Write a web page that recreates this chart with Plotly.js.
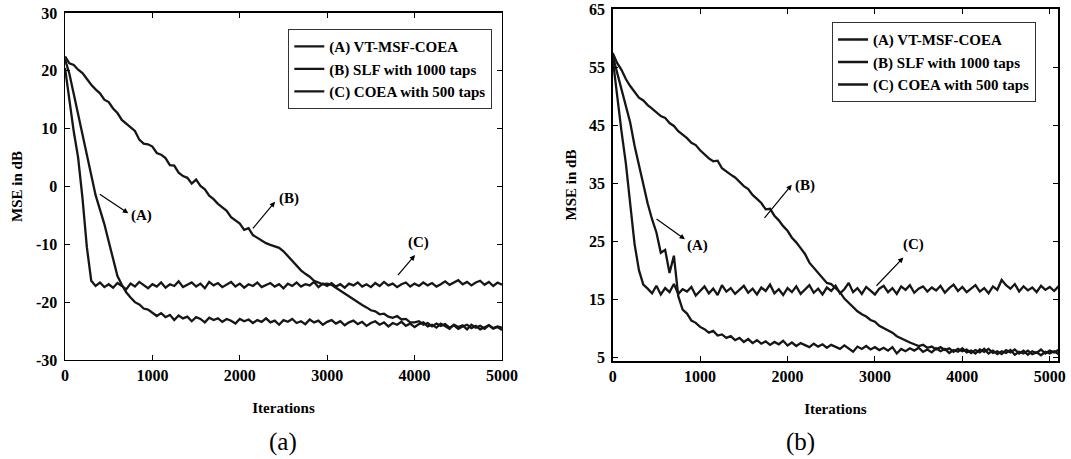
<!DOCTYPE html>
<html>
<head>
<meta charset="utf-8">
<script src="https://cdn.plot.ly/plotly-3.0.1.min.js"></script>
<style>html,body{margin:0;padding:0;background:#fff;}#chart{width:1071px;height:459px;}</style>
</head>
<body>
<div id="chart"></div>
<script>
// Iterations (shared x values)
const ITER = [
  0,50,100,150,200,250,300,350,400,450,
  500,550,600,650,700,750,800,850,900,950,
  1000,1050,1100,1150,1200,1250,1300,1350,1400,1450,
  1500,1550,1600,1650,1700,1750,1800,1850,1900,1950,
  2000,2050,2100,2150,2200,2250,2300,2350,2400,2450,
  2500,2550,2600,2650,2700,2750,2800,2850,2900,2950,
  3000,3050,3100,3150,3200,3250,3300,3350,3400,3450,
  3500,3550,3600,3650,3700,3750,3800,3850,3900,3950,
  4000,4050,4100,4150,4200,4250,4300,4350,4400,4450,
  4500,4550,4600,4650,4700,4750,4800,4850,4900,4950,
  5000
];
const ITER_B = ITER.concat([5050, 5100]);

const SERIES_NAMES = ['(A) VT-MSF-COEA', '(B) SLF with 1000 taps', '(C) COEA with 500 taps'];

// Panel (a): MSE in dB
const A_a = [
  22,19.5,16,12.5,9,5,1.5,-1.5,-4,-6.5,
  -9.5,-12.5,-15.5,-17,-18.3,-19.2,-20,-20.4,-21.1,-21.3,
  -21.8,-22.4,-21.9,-22.6,-22.2,-23.1,-22.3,-22.8,-22.5,-23.3,
  -22.6,-22.9,-23.5,-22.7,-23.1,-22.8,-23.4,-22.9,-23.2,-23.7,
  -22.9,-23.3,-23.0,-23.6,-23.1,-23.4,-22.8,-23.5,-23.2,-23.9,
  -23.1,-23.4,-22.9,-23.6,-23.3,-23.8,-23.0,-23.5,-23.2,-23.9,
  -23.4,-23.1,-23.7,-23.3,-24.0,-23.5,-23.2,-23.8,-23.4,-24.1,
  -23.6,-23.3,-23.9,-23.5,-24.2,-23.6,-23.9,-23.4,-24.1,-23.7,
  -24.3,-23.8,-23.5,-24.2,-23.9,-24.4,-23.7,-24.1,-24.6,-23.9,
  -24.3,-24.0,-24.7,-23.9,-24.4,-24.1,-24.6,-24.0,-24.5,-24.2,
  -24.4
];
const B_a = [
  22.5,21.3,21.0,20.2,19.6,18.5,17.6,16.8,16.1,15.0,
  14.6,13.5,12.7,11.5,10.9,10.2,9.6,8.1,7.4,7.3,
  6.9,5.8,5.5,4.9,3.7,3.6,2.4,1.8,1.5,0.5,
  1.2,0.1,-0.5,-1.6,-2.2,-3.0,-3.6,-4.2,-5.3,-5.8,
  -6.4,-7.5,-7.2,-8.4,-8.9,-9.4,-9.8,-10.1,-10.4,-10.6,
  -11.2,-12.0,-12.9,-13.7,-14.5,-15.1,-15.6,-16.3,-16.6,-16.9,
  -16.8,-17.0,-17.5,-18.0,-18.6,-19.1,-19.6,-20.1,-20.5,-20.9,
  -21.4,-21.6,-22.1,-22.0,-22.5,-22.7,-22.4,-23.0,-22.9,-23.5,
  -23.5,-23.3,-23.9,-23.6,-24.2,-23.7,-24.1,-23.8,-24.4,-24.0,
  -24.6,-24.2,-23.9,-24.5,-24.1,-24.7,-24.3,-24.0,-24.6,-24.3,
  -24.8
];
const C_a = [
  20.5,15,9.5,5,-2,-10.5,-16.3,-17.2,-16.6,-17.4,
  -16.9,-17.5,-16.7,-17.2,-17.8,-16.8,-17.3,-16.5,-17.1,-17.6,
  -16.9,-17.3,-16.6,-17.5,-16.9,-17.2,-16.4,-17.4,-17.0,-16.6,
  -17.3,-16.8,-17.6,-16.5,-17.1,-16.7,-17.4,-16.9,-16.5,-17.3,
  -16.8,-17.5,-16.9,-17.2,-16.6,-17.4,-17.0,-16.7,-17.3,-16.9,
  -17.6,-16.8,-17.2,-16.6,-17.3,-16.9,-17.1,-16.5,-17.4,-16.8,
  -17.2,-16.7,-17.3,-16.9,-17.5,-16.8,-17.1,-16.6,-17.3,-16.9,
  -17.4,-16.7,-17.2,-16.5,-17.1,-16.8,-17.4,-16.9,-16.6,-17.3,
  -16.8,-17.2,-16.6,-17.1,-16.7,-17.3,-16.9,-16.4,-17.0,-16.6,
  -16.2,-16.9,-16.5,-17.1,-16.6,-16.3,-17.0,-16.5,-17.2,-16.6,
  -17.0
];

// Panel (b): MSE in dB
const A_b = [
  57,54,51,48.5,45.5,41.5,38,35,31.5,28.8,
  26.5,23,23.5,19.5,22.5,15.5,13.2,12.5,11.3,10.9,
  10.2,9.8,9.2,9.5,8.7,8.9,8.3,8.6,7.9,8.3,
  7.6,8.1,7.4,7.9,7.3,7.7,7.1,7.6,7.2,7.8,
  7.0,7.5,6.9,7.4,7.1,6.7,7.3,6.8,7.2,6.6,
  7.1,6.8,6.4,7.0,6.5,5.9,6.8,6.4,6.9,6.3,
  6.7,6.2,6.6,6.1,6.7,5.6,6.4,6.0,6.5,6.1,
  6.6,5.9,6.3,5.8,6.5,6.0,6.4,5.7,6.2,5.9,
  6.5,5.8,6.1,5.6,6.3,5.9,6.4,5.7,6.0,5.5,
  6.2,5.8,6.3,5.6,6.1,5.4,6.0,5.7,6.3,5.6,
  6.1,5.8,6.2
];
const B_b = [
  57.5,55.8,54.6,53.0,51.8,50.9,49.8,49.3,48.5,47.9,
  47.2,46.6,46.3,45.4,44.9,44.0,43.4,42.8,42.0,41.6,
  40.7,40.0,39.3,38.8,38.9,37.6,37.0,36.5,36.0,35.3,
  34.5,34.0,33.0,32.3,31.6,30.5,30.6,29.4,28.6,27.6,
  26.8,25.6,24.8,23.8,22.8,21.3,20.4,19.6,18.5,17.8,
  17.6,16.9,16.2,15.1,14.4,13.7,12.9,12.4,12.0,11.4,
  11.1,10.4,10.0,9.5,9.2,8.6,8.2,7.9,7.5,7.2,
  6.9,7.1,6.6,6.8,6.3,6.7,6.2,6.5,5.9,6.4,
  6.0,6.3,5.7,6.2,5.8,6.4,5.6,6.1,5.5,6.0,
  5.7,6.2,5.4,5.9,5.6,6.1,5.5,5.8,5.3,5.9,
  5.6,6.0,5.5
];
const C_b = [
  56.5,50,44,38.5,31,24.5,20,17.5,16.8,16.0,
  17.3,15.8,16.9,16.2,17.6,15.9,16.7,16.3,17.1,15.6,
  16.4,17.2,16.0,16.8,15.7,17.4,16.3,16.9,15.9,16.6,
  17.3,16.1,16.8,15.8,17.0,16.4,17.5,16.0,16.7,15.7,
  16.9,16.2,17.2,15.9,16.6,17.4,16.1,16.8,15.8,17.0,
  16.4,17.3,16.0,16.7,17.8,16.2,16.9,15.9,17.1,16.5,
  15.8,16.8,17.3,16.2,16.9,15.9,17.2,16.6,17.4,16.1,
  16.8,17.2,16.3,17.0,16.5,17.3,16.1,16.9,17.5,16.4,
  17.1,16.2,16.8,17.4,16.3,16.9,16.0,17.2,16.6,18.3,
  17.4,16.8,17.6,16.3,17.2,16.5,17.0,16.2,17.3,16.6,
  17.1,16.4,17.2
];

// Tick labels
const X_TICKS = [0, 1000, 2000, 3000, 4000, 5000];
const X_TICK_TEXT = ['0', '1000', '2000', '3000', '4000', '5000'];
const Y_TICKS_A = [-30, -20, -10, 0, 10, 20, 30];
const Y_TICK_TEXT_A = ['-30', '-20', '-10', '0', '10', '20', '30'];
const Y_TICKS_B = [5, 15, 25, 35, 45, 55, 65];
const Y_TICK_TEXT_B = ['5', '15', '25', '35', '45', '55', '65'];

const SERIF = '"Liberation Serif", "Times New Roman", serif';
const LINE = {color: '#161616', width: 2.3};

const traces = [
  {x: ITER, y: A_a, name: SERIES_NAMES[0], xaxis: 'x', yaxis: 'y', legend: 'legend'},
  {x: ITER, y: B_a, name: SERIES_NAMES[1], xaxis: 'x', yaxis: 'y', legend: 'legend'},
  {x: ITER, y: C_a, name: SERIES_NAMES[2], xaxis: 'x', yaxis: 'y', legend: 'legend'},
  {x: ITER_B, y: A_b, name: SERIES_NAMES[0], xaxis: 'x2', yaxis: 'y2', legend: 'legend2'},
  {x: ITER_B, y: B_b, name: SERIES_NAMES[1], xaxis: 'x2', yaxis: 'y2', legend: 'legend2'},
  {x: ITER_B, y: C_b, name: SERIES_NAMES[2], xaxis: 'x2', yaxis: 'y2', legend: 'legend2'}
].map(t => Object.assign({type: 'scatter', mode: 'lines', line: LINE, hoverinfo: 'skip'}, t));

const tickFont = {family: SERIF, size: 16, weight: 'bold', color: '#000'};
const titleFont = {family: SERIF, size: 15, weight: 'bold', color: '#000'};
const axisBase = {
  showline: true, linecolor: '#000', linewidth: 1.5, mirror: 'ticks',
  ticks: 'inside', ticklen: 5, tickwidth: 1, tickcolor: '#000',
  showgrid: false, zeroline: false, tickfont: tickFont, fixedrange: true,
  ticklabeloverflow: 'allow'
};

const legendBase = {
  xanchor: 'left', yanchor: 'top', bgcolor: '#fff', bordercolor: '#333', borderwidth: 1.2,
  font: {family: SERIF, size: 15, weight: 'bold', color: '#000'}, tracegroupgap: 0
};

function arrow(xr, yr, x, y, ax, ay) {
  return {xref: xr, yref: yr, axref: xr, ayref: yr, x: x, y: y, ax: ax, ay: ay, text: '',
    showarrow: true, arrowhead: 2, arrowsize: 0.9, arrowwidth: 1.2, arrowcolor: '#000'};
}
function label(xr, yr, x, y, t) {
  return {xref: xr, yref: yr, x: x, y: y, text: t, showarrow: false,
    font: {family: SERIF, size: 15, weight: 'bold', color: '#000'}};
}

const layout = {
  width: 1071, height: 459,
  margin: {l: 0, r: 0, t: 0, b: 0},
  paper_bgcolor: '#fff', plot_bgcolor: '#fff',
  font: {family: SERIF, color: '#000'},
  showlegend: true,
  xaxis: Object.assign({}, axisBase, {domain: [0.0607, 0.4687], range: [0, 5000], anchor: 'y',
    tickvals: X_TICKS, ticktext: X_TICK_TEXT, title: {text: 'Iterations', font: titleFont, standoff: 20}}),
  yaxis: Object.assign({}, axisBase, {domain: [0.2157, 0.9717], range: [-30, 30], anchor: 'x',
    tickvals: Y_TICKS_A, ticktext: Y_TICK_TEXT_A, ticklabelstandoff: 3,
    title: {text: 'MSE in dB', font: titleFont, standoff: 9}}),
  xaxis2: Object.assign({}, axisBase, {domain: [0.5721, 0.9879], range: [0, 5095], anchor: 'y2',
    tickvals: X_TICKS, ticktext: X_TICK_TEXT, title: {text: 'Iterations', font: titleFont, standoff: 20}}),
  yaxis2: Object.assign({}, axisBase, {domain: [0.2135, 0.9804], range: [4.31, 65.1], anchor: 'x2',
    tickvals: Y_TICKS_B, ticktext: Y_TICK_TEXT_B, ticklabelstandoff: 3,
    title: {text: 'MSE in dB', font: titleFont, standoff: 9}}),
  legend: Object.assign({}, legendBase, {x: 0.2690, y: 0.9368}),
  legend2: Object.assign({}, legendBase, {x: 0.7767, y: 0.952}),
  annotations: [
    arrow('x', 'y', 724, -4.63, 381, -1.18),
    arrow('x', 'y', 2403, -2.63, 2136, -7.52),
    arrow('x', 'y', 4005, -11.85, 3795, -15.6),
    label('x', 'y', 877, -5.1, '(A)'),
    label('x', 'y', 2563, -2.1, '(B)'),
    label('x', 'y', 4050, -9.7, '(C)'),
    arrow('x2', 'y2', 827, 25.33, 484, 29.03),
    arrow('x2', 'y2', 2048, 34.75, 1723, 28.76),
    arrow('x2', 'y2', 3325, 22.18, 3001, 17.04),
    label('x2', 'y2', 970, 24.2, '(A)'),
    label('x2', 'y2', 2200, 34.7, '(B)'),
    label('x2', 'y2', 3439, 24.4, '(C)'),
    {xref: 'paper', yref: 'paper', x: 0.2493, y: 0.037, yanchor: 'middle', text: '(a)', showarrow: false,
      font: {family: SERIF, size: 25, color: '#000'}},
    {xref: 'paper', yref: 'paper', x: 0.7626, y: 0.037, yanchor: 'middle', text: '(b)', showarrow: false,
      font: {family: SERIF, size: 25, color: '#000'}}
  ]
};

Plotly.newPlot('chart', traces, layout, {displayModeBar: false, staticPlot: true});
</script>
</body>
</html>
